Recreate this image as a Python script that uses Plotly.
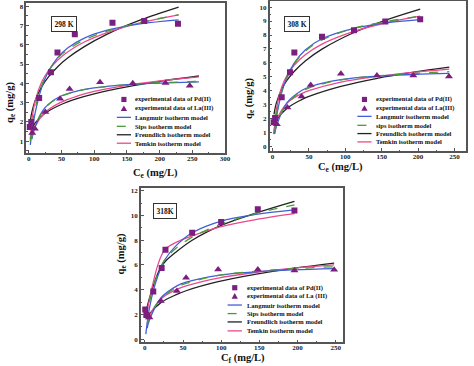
import plotly.graph_objects as go

W, H = 474, 366

# ---------------- data: 298 K ----------------
pd298_ce = [1.5, 4, 16, 34, 44, 70.5, 128, 176.5, 228]
pd298_qe = [1.74, 2.0, 3.24, 4.57, 5.6, 6.54, 7.14, 7.23, 7.09]
la298_ce = [5.5, 9.5, 25.5, 48, 62.5, 109, 159, 209, 246]
la298_qe = [1.43, 1.65, 2.51, 3.2, 3.71, 4.05, 4.0, 4.02, 3.88]

pd298_fit_ce = [2.5, 5, 10, 20, 30, 44, 60, 85, 120, 170, 229]
pd298_lang = [0.81, 1.47, 2.48, 3.79, 4.60, 5.32, 5.84, 6.34, 6.75, 7.08, 7.29]
pd298_sips = [1.0, 1.7, 2.7, 3.9, 4.6, 5.3, 5.75, 6.25, 6.7, 7.15, 7.55]
pd298_freu = [2.05, 2.52, 3.11, 3.83, 4.32, 4.85, 5.32, 5.90, 6.55, 7.27, 7.95]
pd298_temk = [1.12, 2.11, 3.09, 4.08, 4.65, 5.20, 5.64, 6.14, 6.63, 7.13, 7.55]

la298_fit_ce = [5, 10, 25, 48, 75, 100, 150, 200, 260]
la298_lang = [1.11, 1.77, 2.74, 3.32, 3.61, 3.76, 3.93, 4.01, 4.08]
la298_sips = [1.2, 1.8, 2.72, 3.3, 3.6, 3.75, 3.93, 4.03, 4.1]
la298_freu = [1.64, 1.95, 2.45, 2.88, 3.22, 3.46, 3.82, 4.10, 4.38]
la298_temk = [1.22, 1.77, 2.49, 3.0, 3.35, 3.58, 3.90, 4.12, 4.33]

# ---------------- data: 308 K ----------------
pd308_ce = [1.5, 3.5, 12.6, 24, 30, 68, 112, 155, 203]
pd308_qe = [1.75, 2.05, 3.55, 5.33, 6.75, 7.87, 8.34, 8.96, 9.13]
la308_ce = [3, 6, 20.5, 40, 52.5, 94, 143.5, 193.5, 242.5]
la308_qe = [1.75, 1.6, 2.8, 3.6, 4.42, 5.22, 5.1, 5.1, 5.03]

pd308_fit_ce = [2, 5, 12.6, 20, 30, 45, 68, 112, 155, 203]
pd308_lang = [0.91, 2.0, 3.87, 5.0, 6.0, 6.92, 7.73, 8.48, 8.86, 9.10]
pd308_sips = [1.0, 2.2, 3.95, 4.95, 5.95, 6.85, 7.65, 8.48, 8.95, 9.35]
pd308_freu = [2.31, 3.08, 4.12, 4.76, 5.40, 6.14, 6.99, 8.18, 9.05, 9.85]
pd308_temk = [0.89, 2.57, 4.26, 5.11, 5.85, 6.59, 7.35, 8.26, 8.86, 9.35]

la308_fit_ce = [3, 6, 20, 40, 52, 94, 144, 194, 243]
la308_lang = [0.91, 1.57, 3.16, 4.03, 4.31, 4.80, 5.05, 5.17, 5.25]
la308_sips = [1.05, 1.65, 3.1, 3.95, 4.25, 4.78, 5.07, 5.25, 5.37]
la308_freu = [1.58, 1.94, 2.75, 3.37, 3.64, 4.32, 4.90, 5.34, 5.70]
la308_temk = [1.27, 1.95, 3.12, 3.80, 4.05, 4.63, 5.04, 5.33, 5.55]

# ---------------- data: 318 K ----------------
pd318_ce = [0.5, 2, 11, 22, 27, 62, 100, 148, 196]
pd318_qe = [2.4, 1.95, 3.85, 5.76, 7.23, 8.6, 9.48, 10.5, 10.4]
la318_ce = [3, 6, 21, 42, 54, 96, 148, 196, 248]
la318_qe = [1.96, 1.75, 3.08, 3.88, 4.96, 5.63, 5.63, 5.55, 5.6]

pd318_fit_ce = [1.3, 3, 6, 11, 17, 22, 27, 40, 62, 100, 148, 196]
pd318_lang = [0.4, 1.3, 2.5, 3.9, 5.1, 5.9, 6.5, 7.5, 8.6, 9.55, 10.1, 10.45]
pd318_sips = [1.6, 2.2, 3.0, 4.2, 5.3, 6.0, 6.5, 7.3, 8.25, 9.3, 10.2, 10.85]
pd318_freu = [2.1, 2.6, 3.3, 4.3, 5.3, 5.9, 6.3, 7.0, 8.0, 9.2, 10.25, 11.15]
pd318_temk = [1.7, 2.3, 3.2, 4.6, 6.0, 6.8, 7.3, 7.8, 8.35, 9.1, 9.7, 10.15]

la318_fit_ce = [3, 6, 21, 42, 54, 96, 148, 196, 248]
la318_lang = [0.89, 1.55, 3.32, 4.30, 4.6, 5.16, 5.45, 5.60, 5.70]
la318_sips = [1.2, 1.8, 3.25, 4.2, 4.5, 5.15, 5.5, 5.7, 5.85]
la318_freu = [1.65, 2.03, 2.95, 3.62, 3.91, 4.64, 5.27, 5.74, 6.15]
la318_temk = [1.08, 1.85, 3.25, 4.02, 4.30, 4.94, 5.42, 5.74, 6.0]

# ---------------- text ----------------
temps = ["298 K", "308 K", "318K"]
x_titles = ["C<sub>e</sub> (mg/L)", "C<sub>e</sub> (mg/L)", "C<sub>f</sub> (mg/L)"]
y_title = "q<sub>e</sub> (mg/g)"
legend_labels = [
    ["experimental data of Pd(II)", "experimental data of La(III)", "Langmuir isotherm model",
     "Sips isotherm model", "Freundlich isotherm model", "Temkin isotherm model"],
    ["experimental data of Pd(II)", "experimental data of La(III)", "Langmuir isotherm model",
     "sips isotherm model", "Freundlich isotherm model", "Temkin isotherm model"],
    ["experimental data of Pd(II)", "experimental data of La (III)", "Langmuir isotherm model",
     "Sips isotherm model", "Freundlich isotherm model", "Temkin isotherm model"],
]

# ---------------- styles ----------------
MARK = "#7a1f7f"
C_LANG = "#3f5fd8"
C_SIPS = "#4a9a3a"
C_FREU = "#222222"
C_TEMK = "#ea4a8c"
FONT = "Liberation Serif"
FRAME = "#555555"

fig = go.Figure()

def px2x(px):
    return px / W

def py2y(py):
    return 1 - py / H

panels = [
    dict(xa="x", ya="y",
         pd=(pd298_ce, pd298_qe), la=(la298_ce, la298_qe),
         pdfit=(pd298_fit_ce, pd298_lang, pd298_sips, pd298_freu, pd298_temk),
         lafit=(la298_fit_ce, la298_lang, la298_sips, la298_freu, la298_temk)),
    dict(xa="x2", ya="y2",
         pd=(pd308_ce, pd308_qe), la=(la308_ce, la308_qe),
         pdfit=(pd308_fit_ce, pd308_lang, pd308_sips, pd308_freu, pd308_temk),
         lafit=(la308_fit_ce, la308_lang, la308_sips, la308_freu, la308_temk)),
    dict(xa="x3", ya="y3",
         pd=(pd318_ce, pd318_qe), la=(la318_ce, la318_qe),
         pdfit=(pd318_fit_ce, pd318_lang, pd318_sips, pd318_freu, pd318_temk),
         lafit=(la318_fit_ce, la318_lang, la318_sips, la318_freu, la318_temk)),
]

for p in panels:
    for fit in (p["pdfit"], p["lafit"]):
        xs = fit[0]
        for ys, col, dash in ((fit[3], C_FREU, "solid"), (fit[4], C_TEMK, "solid"),
                              (fit[1], C_LANG, "solid"), (fit[2], C_SIPS, "dash")):
            fig.add_trace(go.Scatter(x=xs, y=ys, mode="lines", xaxis=p["xa"], yaxis=p["ya"],
                                     line=dict(color=col, width=1.3, dash=dash, shape="spline",
                                               smoothing=1.0),
                                     showlegend=False, hoverinfo="skip"))
    fig.add_trace(go.Scatter(x=p["pd"][0], y=p["pd"][1], mode="markers", xaxis=p["xa"], yaxis=p["ya"],
                             marker=dict(symbol="square", size=6, color=MARK), showlegend=False))
    fig.add_trace(go.Scatter(x=p["la"][0], y=p["la"][1], mode="markers", xaxis=p["xa"], yaxis=p["ya"],
                             marker=dict(symbol="triangle-up", size=7, color=MARK), showlegend=False))

def axis_common():
    return dict(showline=True, linecolor=FRAME, linewidth=1.5, mirror=True, showgrid=False,
                zeroline=False, tickfont=dict(family=FONT, size=7, color="#222", weight="bold"),
                tickcolor=FRAME, ticklen=3, tickwidth=1)

layout = dict(width=W, height=H, margin=dict(l=0, r=0, t=0, b=0), autosize=False,
              plot_bgcolor="white", paper_bgcolor="white", showlegend=False)

# domains in pixels
doms = [
    ((26.7, 228.0), (2.0, 152.7), [-3.5, 300], [0.4, 8.16], 50, 1, -2),
    ((273.0, 472.0), (0.5, 150.7), [-4.1, 266], [-0.3, 10.4], 50, 1, -2),
    ((142.7, 347.3), (188.3, 343.3), [-5.2, 259.5], [-0.27, 12.2], 50, 2, -3),
]
for i, (xd, yd, xr, yr, dx, dy, so) in enumerate(doms):
    sx = "" if i == 0 else str(i + 1)
    xa = axis_common()
    xa.update(domain=[px2x(xd[0]), px2x(xd[1])], range=xr, dtick=dx, tick0=0, ticks="inside",
              ticklabelstandoff=so,
              anchor="y" + sx, minor=dict(ticks="inside", ticklen=1.5, dtick=dx / 2, tickcolor=FRAME))
    ya = axis_common()
    ya.update(domain=[py2y(yd[1]), py2y(yd[0])], range=yr, dtick=dy, tick0=0, ticks="inside",
              anchor="x" + sx, minor=dict(ticks="inside", ticklen=1.5, dtick=dy / 2, tickcolor=FRAME))
    layout["xaxis" + sx] = xa
    layout["yaxis" + sx] = ya

fig.update_layout(**layout)

annots = []
shapes = []

# temperature boxes
temp_pos = [(52, 15.3), (300.8, 14.7), (167.5, 211.3)]
for t, (cx, cy) in zip(temps, temp_pos):
    annots.append(dict(text=t, x=px2x(cx), y=py2y(cy), xref="paper", yref="paper",
                       showarrow=False, font=dict(family=FONT, size=7.5, color="#111", weight="bold"),
                       bordercolor="#333", borderwidth=1, borderpad=2.5, bgcolor="white"))

# axis titles
xt_pos = [(132.5, 173.0), (370, 167.5), (246, 359.5)]
yt_pos = [(10, 79), (252, 75), (123.3, 276.7)]
for t, (cx, cy) in zip(x_titles, xt_pos):
    annots.append(dict(text=t, x=px2x(cx), y=py2y(cy), xref="paper", yref="paper", showarrow=False,
                       yanchor="middle",
                       font=dict(family=FONT, size=10.5, color="#111", weight="bold")))
for (cx, cy) in yt_pos:
    annots.append(dict(text=y_title, x=px2x(cx), y=py2y(cy), xref="paper", yref="paper",
                       showarrow=False, textangle=-90, xanchor="center",
                       font=dict(family=FONT, size=10.5, color="#111", weight="bold")))

# legends (drawn manually)
leg_geo = [
    (118.3, 132.7, 135.0, [99, 108, 117, 126, 134.5, 143]),
    (362.0, 376.3, 378.7, [99, 107.7, 116, 125, 133.3, 141.7]),
    (230.5, 245.0, 247.7, [288.3, 296.7, 305.7, 314.3, 322.7, 331.7]),
]
for (x0, x1, tx, rows), labels in zip(leg_geo, legend_labels):
    cx = (x0 + x1) / 2
    s = 2.6
    shapes.append(dict(type="rect", xref="paper", yref="paper", x0=px2x(cx - s), x1=px2x(cx + s),
                       y0=py2y(rows[0] + s), y1=py2y(rows[0] - s), fillcolor=MARK, line=dict(width=0)))
    r = rows[1]
    path = "M {:.5f},{:.5f} L {:.5f},{:.5f} L {:.5f},{:.5f} Z".format(
        px2x(cx - 3.2), py2y(r + 2.6), px2x(cx + 3.2), py2y(r + 2.6), px2x(cx), py2y(r - 3.0))
    shapes.append(dict(type="path", xref="paper", yref="paper", path=path, fillcolor=MARK,
                       line=dict(width=0)))
    for r, col, dash in zip(rows[2:], (C_LANG, C_SIPS, C_FREU, C_TEMK), ("solid", "dash", "solid", "solid")):
        shapes.append(dict(type="line", xref="paper", yref="paper", x0=px2x(x0), x1=px2x(x1),
                           y0=py2y(r), y1=py2y(r), line=dict(color=col, width=1.3, dash=dash)))
    for r, lab in zip(rows, labels):
        annots.append(dict(text=lab, x=px2x(tx), y=py2y(r), xref="paper", yref="paper",
                           xanchor="left", yanchor="middle", showarrow=False,
                           font=dict(family=FONT, size=6.5, color="#111", weight="bold")))

fig.update_layout(annotations=annots, shapes=shapes)
fig.write_html("out.html", config={"displayModeBar": False},
               post_script="document.body.style.margin='0';")
